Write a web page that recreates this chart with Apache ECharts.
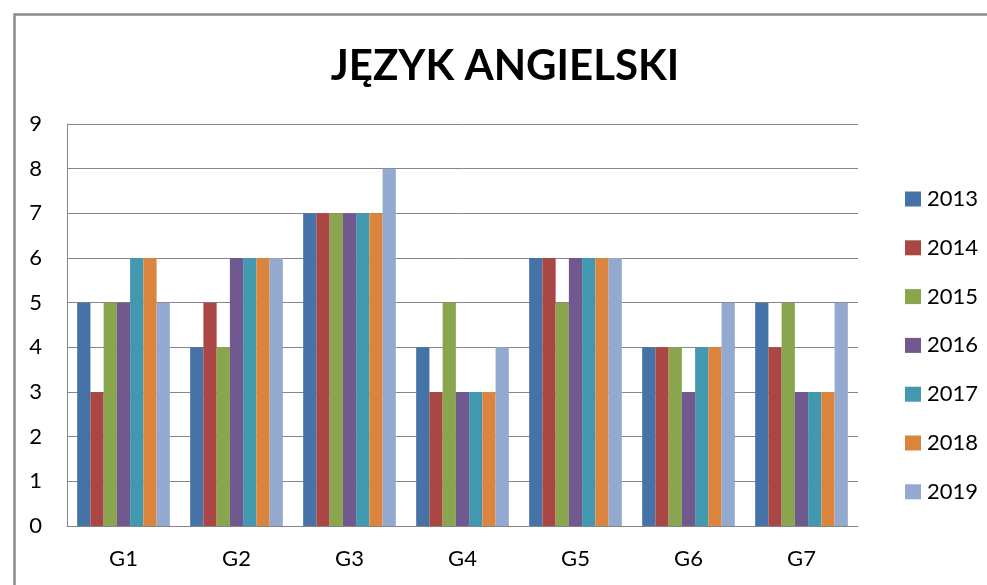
<!DOCTYPE html>
<html>
<head>
<meta charset="utf-8">
<script src="https://cdn.jsdelivr.net/npm/echarts@6/dist/echarts.min.js"></script>
<style>html,body{margin:0;padding:0;background:#fff}#c{width:987px;height:585px}</style>
</head>
<body>
<div id="c"></div>
<script>
const titleText = 'JĘZYK ANGIELSKI';
const categories = ['G1','G2','G3','G4','G5','G6','G7'];
const seriesNames = ['2013','2014','2015','2016','2017','2018','2019'];
const v2013 = [5,4,7,4,6,4,5];
const v2014 = [3,5,7,3,6,4,4];
const v2015 = [5,4,7,5,5,4,5];
const v2016 = [5,6,7,3,6,3,3];
const v2017 = [6,6,7,3,6,4,3];
const v2018 = [6,6,7,3,6,4,3];
const v2019 = [5,6,8,4,6,5,5];
const yTicks = [0,1,2,3,4,5,6,7,8,9];

const values = [v2013,v2014,v2015,v2016,v2017,v2018,v2019];
const colors = ['#4572A7','#AA4643','#89A54E','#71588F','#4198AF','#DB843D','#93A9CF'];
const font = 'Lato, "Open Sans", sans-serif';

const chart = echarts.init(document.getElementById('c'));
chart.setOption({
  animation: false,
  backgroundColor: '#fff',
  color: colors,
  graphic: [{
    type: 'rect', left: 12, top: 12, silent: true,
    shape: {x: 0, y: 0, width: 1100, height: 700},
    style: {fill: 'none', stroke: '#8a8a8a', lineWidth: 2.5}
  }, {
    type: 'text', x: 505, y: 66, silent: true,
    style: {text: titleText, align: 'center', verticalAlign: 'middle',
      font: 'bold 42px ' + font, fill: '#000'}
  }],
  legend: {
    orient: 'vertical',
    left: 900,
    top: 183,
    itemWidth: 16,
    itemHeight: 15,
    itemGap: 26.8,
    icon: 'rect',
    textStyle: {fontFamily: font, fontSize: 22, color: '#000', lineHeight: 22, padding: [0,0,0,1]},
    data: seriesNames
  },
  grid: {left: 67, right: 129, top: 124, bottom: 59, containLabel: false},
  xAxis: {
    type: 'category',
    data: categories,
    axisLine: {lineStyle: {color: '#868686', width: 1}},
    axisTick: {show: false},
    axisLabel: {fontFamily: font, fontSize: 22, color: '#000', margin: 22}
  },
  yAxis: {
    type: 'value',
    min: yTicks[0], max: yTicks[yTicks.length-1], interval: 1,
    axisLine: {show: true, lineStyle: {color: '#868686', width: 1}},
    axisTick: {show: false},
    splitLine: {lineStyle: {color: '#868686', width: 1}},
    axisLabel: {fontFamily: font, fontSize: 22, color: '#000', margin: 25}
  },
  series: seriesNames.map((n, i) => ({
    name: n,
    type: 'bar',
    data: values[i],
    barGap: '0%',
    barCategoryGap: '18%',
    itemStyle: {color: colors[i]}
  }))
});
</script>
</body>
</html>
